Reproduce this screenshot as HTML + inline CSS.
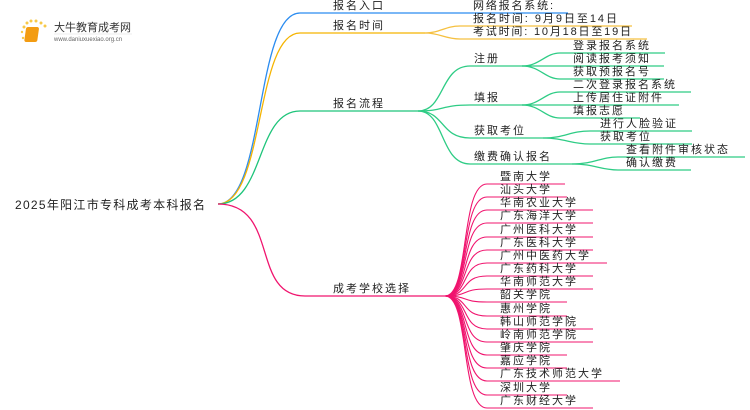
<!DOCTYPE html>
<html><head><meta charset="utf-8"><style>
html,body{margin:0;padding:0;background:#fff;width:750px;height:410px;overflow:hidden}
text{font-family:"Liberation Sans","Noto Sans CJK SC",sans-serif;font-size:11px;letter-spacing:2px;fill:#222}
</style></head><body>
<svg width="750" height="410" viewBox="0 0 750 410" xmlns="http://www.w3.org/2000/svg">
<g>
<circle cx="24" cy="27" r="1.5" fill="#f7c948"/><circle cx="27" cy="23" r="1.5" fill="#f7c948"/><circle cx="31" cy="21" r="1.5" fill="#f7c948"/><circle cx="36" cy="21" r="1.5" fill="#f7c948"/><circle cx="41" cy="23" r="1.5" fill="#f7c948"/><circle cx="45" cy="26" r="1.5" fill="#f7c948"/><circle cx="22" cy="32" r="1.2" fill="#f7c948"/><circle cx="23" cy="38" r="1.2" fill="#f7c948"/>
<rect x="30" y="27" width="13" height="15" rx="2" fill="#f39c12" transform="skewX(-8)"/>
<text x="54" y="31" style="font-size:11px;letter-spacing:0;fill:#333">大牛教育成考网</text>
<text x="54" y="41" style="font-size:6px;letter-spacing:0;fill:#666">www.daniuxuexiao.org.cn</text>
<line x1="54" y1="34" x2="132" y2="34" stroke="#ddd" stroke-width="0.6"/>
</g>
<text x="15" y="209" textLength="190" style="font-size:12px;letter-spacing:0">2025年阳江市专科成考本科报名</text>
<g fill="none" stroke-width="1.3">
<path d="M218,204 C265,204 255,13 300,13 L568,13" stroke="#2b8cf0"/>
<path d="M218,204 C265,204 255,33 300,33 L425,33" stroke="#f5b400"/>
<path d="M425,33 C440,33 445,26 460,26 L632,26" stroke="#f5c040"/>
<path d="M425,33 C440,33 445,39 460,39 L647,39" stroke="#f5c040"/>
<path d="M218,204 C265,204 255,111 300,111 L418,111" stroke="#1ec47a"/>
<g stroke="#2ecc85">
<path d="M418,111 C445,111 440,66 470,66 L522,66"/>
<path d="M418,111 C445,111 440,105 470,105 L522,105"/>
<path d="M418,111 C445,111 440,138 470,138 L543,138"/>
<path d="M418,111 C445,111 440,164 470,164 L572,164"/>
<path d="M522,66 C540,66 545,53 560,53 L665,53"/>
<path d="M522,66 L664,66"/>
<path d="M522,66 C540,66 545,79 560,79 L664,79"/>
<path d="M522,105 C540,105 545,92 560,92 L691,92"/>
<path d="M522,105 L679,105"/>
<path d="M522,105 C540,105 545,118 560,118 L640,118"/>
<path d="M543,138 C565,138 570,131 590,131 L692,131"/>
<path d="M543,138 C565,138 570,144 590,144 L692,144"/>
<path d="M572,164 C595,164 600,157 618,157 L745,157"/>
<path d="M572,164 C595,164 600,170 618,170 L691,170"/>
</g>
<path d="M218,204 C280,204 250,296 305,296 L445,296" stroke="#f0146e"/>
<g stroke="#f0146e" stroke-width="1.1">
<path d="M445,296 C470,296 460,184 487,184 L565,184"/>
<path d="M445,296 C470,296 460,197 487,197 L567,197"/>
<path d="M445,296 C470,296 460,210 487,210 L593,210"/>
<path d="M445,296 C470,296 460,223 487,223 L593,223"/>
<path d="M445,296 C470,296 460,237 487,237 L593,237"/>
<path d="M445,296 C470,296 460,250 487,250 L593,250"/>
<path d="M445,296 C470,296 460,263 487,263 L607,263"/>
<path d="M445,296 C470,296 460,276 487,276 L593,276"/>
<path d="M445,296 C470,296 460,289 487,289 L593,289"/>
<path d="M445,296 C470,296 460,302 487,302 L567,302"/>
<path d="M445,296 C470,296 460,316 487,316 L567,316"/>
<path d="M445,296 C470,296 460,329 487,329 L593,329"/>
<path d="M445,296 C470,296 460,342 487,342 L593,342"/>
<path d="M445,296 C470,296 460,355 487,355 L567,355"/>
<path d="M445,296 C470,296 460,368 487,368 L567,368"/>
<path d="M445,296 C470,296 460,381 487,381 L620,381"/>
<path d="M445,296 C470,296 460,395 487,395 L567,395"/>
<path d="M445,296 C470,296 460,408 487,408 L593,408"/>
</g>
</g>
<text x="333" y="9">报名入口</text>
<text x="333" y="29">报名时间</text>
<text x="333" y="107">报名流程</text>
<text x="333" y="292">成考学校选择</text>
<text x="473" y="9" textLength="82">网络报名系统:</text>
<text x="473" y="22" textLength="146">报名时间: 9月9日至14日</text>
<text x="473" y="35" textLength="160">考试时间: 10月18日至19日</text>
<text x="474" y="62">注册</text>
<text x="474" y="101">填报</text>
<text x="474" y="134">获取考位</text>
<text x="474" y="160">缴费确认报名</text>
<text x="573" y="49">登录报名系统</text>
<text x="573" y="62">阅读报考须知</text>
<text x="573" y="75">获取预报名号</text>
<text x="573" y="88">二次登录报名系统</text>
<text x="573" y="101">上传居住证附件</text>
<text x="573" y="114">填报志愿</text>
<text x="600" y="127">进行人脸验证</text>
<text x="600" y="140">获取考位</text>
<text x="626" y="153">查看附件审核状态</text>
<text x="626" y="166">确认缴费</text>
<g>
<text x="500" y="180">暨南大学</text>
<text x="500" y="193">汕头大学</text>
<text x="500" y="206">华南农业大学</text>
<text x="500" y="219">广东海洋大学</text>
<text x="500" y="233">广州医科大学</text>
<text x="500" y="246">广东医科大学</text>
<text x="500" y="259">广州中医药大学</text>
<text x="500" y="272">广东药科大学</text>
<text x="500" y="285">华南师范大学</text>
<text x="500" y="298">韶关学院</text>
<text x="500" y="312">惠州学院</text>
<text x="500" y="325">韩山师范学院</text>
<text x="500" y="338">岭南师范学院</text>
<text x="500" y="351">肇庆学院</text>
<text x="500" y="364">嘉应学院</text>
<text x="500" y="377">广东技术师范大学</text>
<text x="500" y="391">深圳大学</text>
<text x="500" y="404">广东财经大学</text>
</g>
</svg>
</body></html>
